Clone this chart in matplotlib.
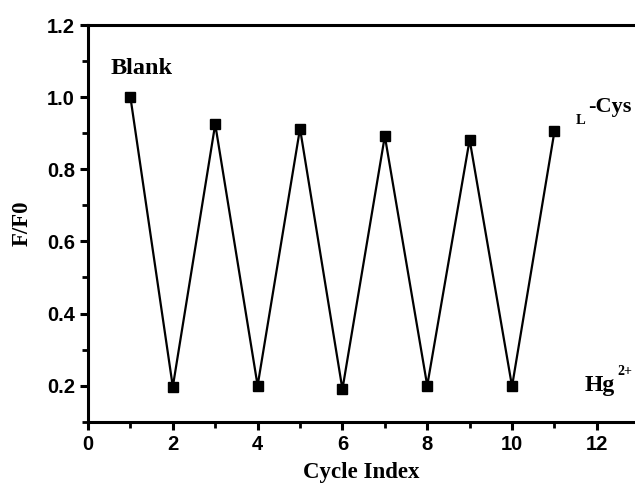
import matplotlib
matplotlib.use("Agg")
import matplotlib.pyplot as plt
from matplotlib.ticker import MultipleLocator, FormatStrFormatter

cycles = [1, 2, 3, 4, 5, 6, 7, 8, 9, 10, 11]
ratio = [1.0, 0.197, 0.925, 0.200, 0.913, 0.190, 0.892, 0.200, 0.882, 0.198, 0.905]

fig = plt.figure(figsize=(6.35, 4.84), dpi=100)
ax = fig.add_axes([0.1386, 0.1287, 0.8614, 0.8196])
ax.plot(cycles, ratio, color="black", lw=1.6, marker="s", ms=7, mfc="black", mec="black")
ax.set_xlim(0, 12.9)
ax.set_ylim(0.1, 1.2)
ax.xaxis.set_major_locator(MultipleLocator(2))
ax.xaxis.set_minor_locator(MultipleLocator(1))
ax.yaxis.set_major_locator(MultipleLocator(0.2))
ax.yaxis.set_minor_locator(MultipleLocator(0.1))
ax.yaxis.set_major_formatter(FormatStrFormatter("%.1f"))
ax.spines["right"].set_visible(False)
for s in ["left", "bottom", "top"]:
    ax.spines[s].set_linewidth(2.2)
ax.tick_params(which="major", direction="out", length=6, width=2.2, labelsize=14.5, top=False, right=False)
ax.tick_params(which="minor", direction="out", length=4, width=2.0, top=False, right=False)
for lab in ax.get_xticklabels() + ax.get_yticklabels():
    lab.set_fontfamily("Liberation Sans")
    lab.set_fontweight("bold")

serif = dict(fontfamily="Liberation Serif", fontweight="bold")
ax.set_xlabel("Cycle Index", fontsize=16.5, labelpad=6, **serif)
ax.set_ylabel("F/F0", fontsize=16.5, labelpad=10, **serif)
ax.text(0.52, 1.08, "Blank", fontsize=17.5, va="center", ha="left", **serif)
# L-Cys label: small subscript-like "L" then "-Cys"
ax.text(11.5, 0.935, "L", fontsize=10.5, va="center", ha="left", **serif)
ax.text(11.8, 0.972, "-Cys", fontsize=16, va="center", ha="left", **serif)
# Hg2+ label
ax.text(11.72, 0.2, "Hg", fontsize=17, va="center", ha="left", **serif)
ax.text(12.48, 0.24, "2+", fontsize=10, va="center", ha="left", **serif)

fig.savefig("out.png", dpi=100)
